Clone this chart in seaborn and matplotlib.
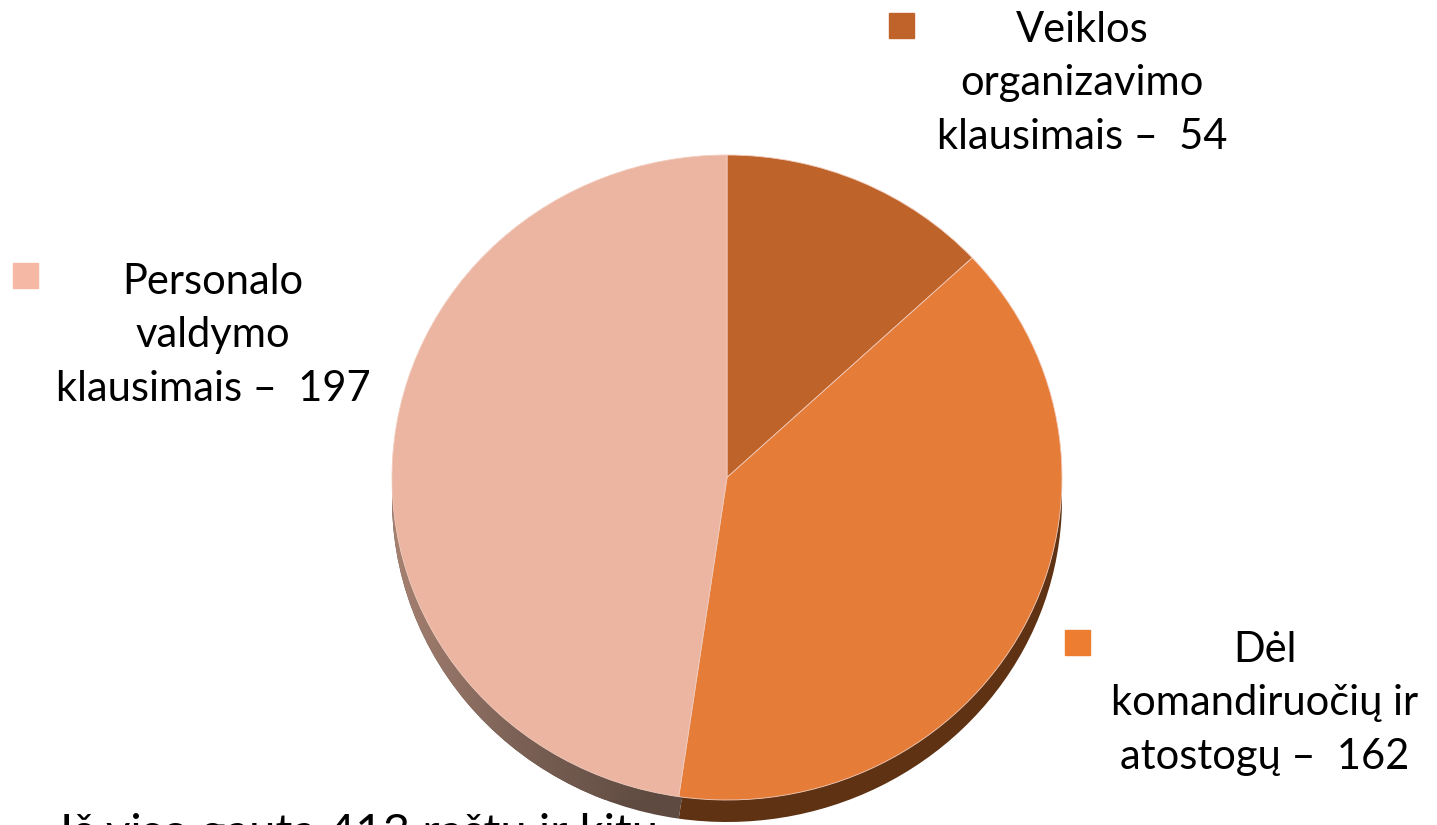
import numpy as np
import matplotlib.pyplot as plt
import seaborn as sns
from matplotlib.colors import LinearSegmentedColormap

# Data
categories = ["Veiklos\norganizavimo\nklausimais –  54",
              "Dėl\nkomandiruočių ir\natostogų –  162",
              "Personalo\nvaldymo\nklausimais –  197"]
values = [54, 162, 197]
top_colors = ["#BE632A", "#E57C37", "#EBB5A1"]
side_colors = ["#5E3212", "#5E3212", "#5E4A40"]
legend_colors = ["#C0632A", "#ED7D31", "#F4B8A4"]

sns.set_theme(style="white")
plt.rcParams['font.family'] = ['Lato', 'DejaVu Sans']

fig = plt.figure(figsize=(14.37, 8.25), dpi=100)
W, H = 1437, 825

# pie axes sized to the (slightly squashed) ellipse of the top face
left, right, top, bottom = 392, 1062, 155, 800
ax = fig.add_axes([left / W, 1 - bottom / H, (right - left) / W, (bottom - top) / H])

thick = 22 / ((bottom - top) / 2)

# side (thickness) of the pie
side, _ = ax.pie(values, colors=side_colors, startangle=90, counterclock=False,
                 center=(0, -thick), radius=1, wedgeprops=dict(linewidth=0))
for w in side:
    w.set_clip_on(False)

# gradient on the pink side
cmap = LinearSegmentedColormap.from_list("sidegrad", ["#A88373", "#7A6055", "#5E4A40", "#5E4A40"])
grad = np.linspace(0, 1, 256).reshape(1, -1)
im = ax.imshow(grad, cmap=cmap, extent=(-1.02, 0.2, -1.2, 0.2), aspect="auto", zorder=side[2].get_zorder() + 0.1)
im.set_clip_path(side[2])

# top face
tops, _ = ax.pie(values, colors=top_colors, startangle=90, counterclock=False,
                 radius=1, wedgeprops=dict(linewidth=0.6, edgecolor="#F3CDBF"))
for w in tops:
    w.set_zorder(5)
    w.set_clip_on(False)

ax.set_aspect("auto")
ax.set_xlim(-1, 1)
ax.set_ylim(-1, 1)
ax.axis("off")

# labels with legend squares
label_pos = [(1082, 30), (1265, 650), (213, 282)]
square_pos = [(889, 13), (1065, 630), (13, 263)]
for lab, (tx, ty), (sx, sy), c in zip(categories, label_pos, square_pos, legend_colors):
    fig.text(tx / W, 1 - (ty - 19) / H, lab, ha="center", va="top", fontsize=30,
             linespacing=1.5, color="black")
    fig.patches.append(plt.Rectangle((sx / W, 1 - (sy + 25) / H), 25 / W, 25 / H,
                                     transform=fig.transFigure, color=c, figure=fig))

# partially visible caption at the very bottom
fig.text(60 / W, 1 - 813 / H, "Iš viso gauta 413 raštų ir kitų", ha="left", va="top",
         fontsize=34, color="black")

fig.savefig("out.png", dpi=100)
